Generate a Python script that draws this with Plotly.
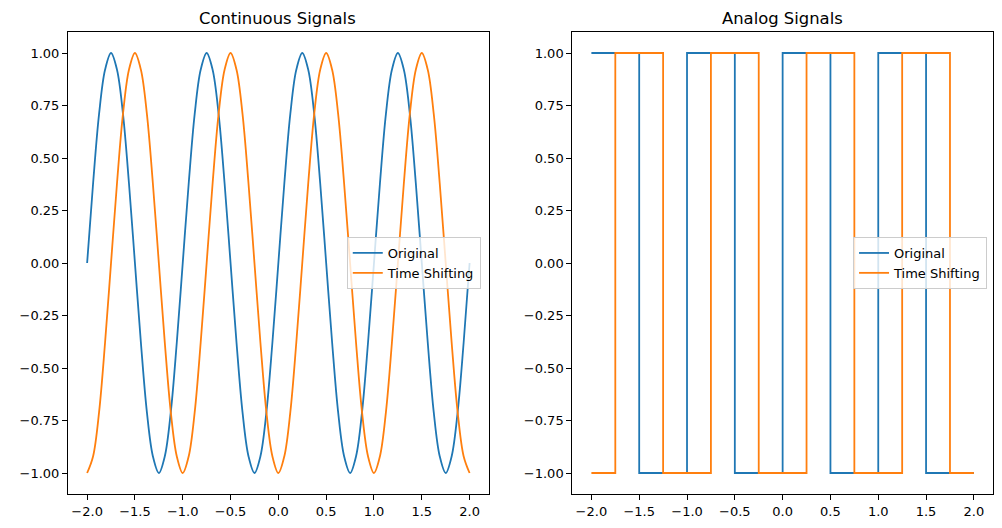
import plotly.graph_objects as go

t_cont = [-2 + k / 16 for k in range(65)]
orig_cont = [0, 0.38, 0.71, 0.92, 1, 0.92, 0.71, 0.38, 0, -0.38, -0.71, -0.92, -1, -0.92, -0.71, -0.38,
             0, 0.38, 0.71, 0.92, 1, 0.92, 0.71, 0.38, 0, -0.38, -0.71, -0.92, -1, -0.92, -0.71, -0.38,
             0, 0.38, 0.71, 0.92, 1, 0.92, 0.71, 0.38, 0, -0.38, -0.71, -0.92, -1, -0.92, -0.71, -0.38,
             0, 0.38, 0.71, 0.92, 1, 0.92, 0.71, 0.38, 0, -0.38, -0.71, -0.92, -1, -0.92, -0.71, -0.38,
             0]
shift_cont = [-1, -0.92, -0.71, -0.38, 0, 0.38, 0.71, 0.92, 1, 0.92, 0.71, 0.38, 0, -0.38, -0.71, -0.92,
              -1, -0.92, -0.71, -0.38, 0, 0.38, 0.71, 0.92, 1, 0.92, 0.71, 0.38, 0, -0.38, -0.71, -0.92,
              -1, -0.92, -0.71, -0.38, 0, 0.38, 0.71, 0.92, 1, 0.92, 0.71, 0.38, 0, -0.38, -0.71, -0.92,
              -1, -0.92, -0.71, -0.38, 0, 0.38, 0.71, 0.92, 1, 0.92, 0.71, 0.38, 0, -0.38, -0.71, -0.92,
              -1]

# Analog (square) signals: step edges
t_orig_sq = [-2, -1.5, -1, -0.5, 0, 0.5, 1, 1.5, 2]
orig_sq = [1, -1, 1, -1, 1, -1, 1, -1, -1]
t_shift_sq = [-2, -1.75, -1.25, -0.75, -0.25, 0.25, 0.75, 1.25, 1.75, 2]
shift_sq = [-1, 1, -1, 1, -1, 1, -1, 1, -1, -1]

xticks = [-2.0, -1.5, -1.0, -0.5, 0.0, 0.5, 1.0, 1.5, 2.0]
yticks = [-1.0, -0.75, -0.5, -0.25, 0.0, 0.25, 0.5, 0.75, 1.0]

BLUE = "#1f77b4"
ORANGE = "#ff7f0e"
FONT = "DejaVu Sans"

fig = go.Figure()
fig.add_trace(go.Scatter(x=t_cont, y=orig_cont, mode="lines", name="Original",
                         line=dict(color=BLUE, width=1.8, shape="spline", smoothing=1.0),
                         xaxis="x", yaxis="y", legend="legend"))
fig.add_trace(go.Scatter(x=t_cont, y=shift_cont, mode="lines", name="Time Shifting",
                         line=dict(color=ORANGE, width=1.8, shape="spline", smoothing=1.0),
                         xaxis="x", yaxis="y", legend="legend"))
fig.add_trace(go.Scatter(x=t_orig_sq, y=orig_sq, mode="lines", name="Original",
                         line=dict(color=BLUE, width=1.8, shape="hv"),
                         xaxis="x2", yaxis="y2", legend="legend2"))
fig.add_trace(go.Scatter(x=t_shift_sq, y=shift_sq, mode="lines", name="Time Shifting",
                         line=dict(color=ORANGE, width=1.8, shape="hv"),
                         xaxis="x2", yaxis="y2", legend="legend2"))

axcommon = dict(showgrid=False, zeroline=False, showline=True, linecolor="black",
                linewidth=1, mirror=True, ticks="outside", ticklen=5, tickcolor="black",
                tickfont=dict(family=FONT, size=13, color="black"))

W, H = 1002, 528
OFF = 8  # browser body margin
ml, mt = 63 - OFF, 32 - OFF
pw, ph = 930, 462
mr = W - ml - pw
mb = H - mt - ph
d1 = [0, 423 / pw]
d2 = [(570 - 63) / pw, 1]

legcommon = dict(bgcolor="rgba(255,255,255,0.8)", bordercolor="#cccccc", borderwidth=1,
                 font=dict(family=FONT, size=13, color="black"), xanchor="right",
                 yanchor="middle", y=0.5, itemwidth=30, tracegroupgap=0)

fig.update_layout(
    width=W, height=H,
    margin=dict(l=ml, r=mr, t=mt, b=mb),
    plot_bgcolor="white", paper_bgcolor="white",
    font=dict(family=FONT, size=13, color="black"),
    xaxis=dict(domain=d1, range=[-2.2, 2.2], tickvals=xticks, tickformat=".1f", anchor="y", **axcommon),
    yaxis=dict(domain=[0, 1], range=[-1.1, 1.1], tickvals=yticks, tickformat=".2f", anchor="x", **axcommon),
    xaxis2=dict(domain=d2, range=[-2.2, 2.2], tickvals=xticks, tickformat=".1f", anchor="y2", **axcommon),
    yaxis2=dict(domain=[0, 1], range=[-1.1, 1.1], tickvals=yticks, tickformat=".2f", anchor="x2", **axcommon),
    legend=dict(x=(478 - 63) / pw, **legcommon),
    legend2=dict(x=(987 - 63) / pw, **legcommon),
    annotations=[
        dict(text="Continuous Signals", x=(274 - 63) / pw, y=1, xref="paper", yref="paper",
             xanchor="center", yanchor="bottom", yshift=2, showarrow=False,
             font=dict(family=FONT, size=16.4, color="black")),
        dict(text="Analog Signals", x=(781 - 63) / pw, y=1, xref="paper", yref="paper",
             xanchor="center", yanchor="bottom", yshift=2, showarrow=False,
             font=dict(family=FONT, size=16.4, color="black")),
    ],
)

fig.write_html("out.html")
